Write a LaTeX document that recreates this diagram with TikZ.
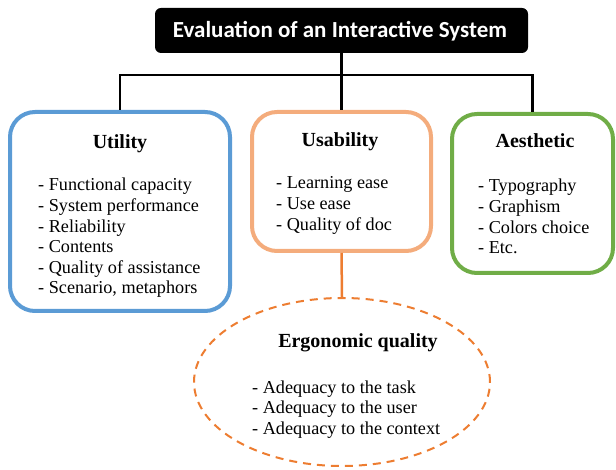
\documentclass[tikz,border=0pt]{standalone}
\usepackage{fontspec}
\setmainfont{Liberation Serif}
\newfontfamily\serifz{Liberation Serif}
\newfontfamily\titlefont{Carlito}
\usetikzlibrary{shapes.geometric}
\definecolor{ublue}{HTML}{5B9BD5}
\definecolor{uorange}{HTML}{F4AC7C}
\definecolor{dorange}{HTML}{ED7D31}
\definecolor{ugreen}{HTML}{70AD47}
\begin{document}
\begin{tikzpicture}[x=1pt,y=-1pt,
  bigbox/.style={line width=4pt, rounded corners=25pt, inner sep=0},
  conn/.style={line width=2.5pt},
  ttl/.style={font=\serifz\bfseries\fontsize{20}{23}\selectfont, anchor=base, inner sep=0},
  item/.style={font=\serifz\fontsize{18.2}{21}\selectfont, anchor=base west, inner sep=0}]
\useasboundingbox (0,0) rectangle (616,470);
% title
\node[fill=black, rounded corners=6pt, minimum width=373pt, minimum height=45pt, inner sep=0] (title) at (341.5,30.5) {};
\node[anchor=base, inner sep=0, text=white, font=\titlefont\bfseries\fontsize{23}{26}\selectfont] (titletext) at (340,38) {Evaluation of an Interactive System};
% boxes
\node[bigbox, draw=ublue, minimum width=220pt, minimum height=199pt] (util) at (120,211.5) {};
\node[bigbox, draw=uorange, minimum width=179pt, minimum height=139pt] (use) at (341.5,181.5) {};
\node[bigbox, draw=ugreen, minimum width=161pt, minimum height=159pt] (aes) at (532.5,193.5) {};
\node[ellipse, draw=dorange, line width=2pt, dash pattern=on 8pt off 6pt, minimum width=296pt, minimum height=168pt, inner sep=0] (ergo) at (342,382) {};
% connectors
\coordinate (j) at (341.5,75);
\draw[conn] (title.south) -- (use.north);
\draw[conn] (util.north) -- (util.north |- j) -- (aes.north |- j) -- (aes.north);
\draw[conn, draw=dorange] (use.south) -- (ergo.north);
% titles
\node[ttl] (utilt) at (120,149) {Utility};
\node[ttl] (uset) at (340,147) {Usability};
\node[ttl] (aest) at (535,148) {Aesthetic};
\node[ttl] (ergot) at (358,348) {Ergonomic quality};
% lists
\foreach \t [count=\i] in {Functional capacity, System performance, Reliability, Contents, Quality of assistance, {Scenario, metaphors}}
  \node[item] (u\i) at (38,191+20.6*\i-20.6) {- \t};
\foreach \t [count=\i] in {Learning ease, Use ease, Quality of doc}
  \node[item] (s\i) at (276,189+20.8*\i-20.8) {- \t};
\foreach \t [count=\i] in {Typography, Graphism, Colors choice, Etc.}
  \node[item] (a\i) at (478,191.5+20.8*\i-20.8) {- \t};
\foreach \t [count=\i] in {Adequacy to the task, Adequacy to the user, Adequacy to the context}
  \node[item] (e\i) at (252,393+20.5*\i-20.5) {- \t};
\end{tikzpicture}
\end{document}
